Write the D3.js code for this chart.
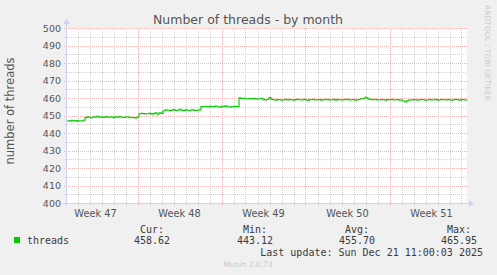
<!DOCTYPE html>
<html>
<head>
    <title>Number of threads - by month</title>
    <script src="https://d3js.org/d3.v7.min.js"></script>
    <style>
        body { margin: 0; background: #f0f0f0; }
        text { font-family: "DejaVu Sans", sans-serif; fill: #555; }
        .mono { font-family: "DejaVu Sans Mono", monospace; font-size: 10px; fill: #3a3a3a; }
    </style>
</head>
<body>
    <div id="chart"></div>

    <script>
// series, 4-hour samples starting Nov 18 2025 03:00 UTC
const startTime = Date.UTC(2025, 10, 18, 3);
const endTime = Date.UTC(2025, 11, 21, 11);
const stepHours = 4;

const threads = [
  447.0, 446.8, 447.2, 446.9, 447.1, 446.8, 447.0, 446.9, 447.3,
  448.8,
  449.2, 449.0, 448.7, 449.3, 449.1, 449.5, 449.0, 449.2, 448.9, 449.4,
  449.1, 449.0, 449.3, 448.8, 449.2, 449.1, 449.4, 449.0, 448.9, 449.2,
  449.3, 448.7, 449.0, 448.8, 448.6, 449.1,
  451.0, 451.2, 451.1, 450.9, 451.0, 451.2, 450.8, 451.1, 451.5, 450.7, 451.6, 451.2,
  452.6, 453.2,
  453.0, 452.8, 453.1, 453.4, 452.9, 453.0, 453.6, 453.1, 452.8, 453.2,
  453.0, 452.7, 453.3, 453.1, 452.9, 453.0, 453.2,
  455.1, 455.0, 455.3, 454.9, 455.2, 455.0, 455.1, 455.4, 455.0, 454.8,
  455.2, 455.1, 455.5, 455.0, 454.9, 455.1, 455.0, 455.2, 455.0,
  460.1, 459.7, 459.8, 459.6, 459.4, 459.7, 459.5, 459.8, 459.3, 459.5, 459.6, 459.9,
  459.1, 458.9, 459.3, 460.2, 459.2, 459.0, 458.8, 459.1, 459.0, 458.7,
  459.0, 459.2, 458.9, 459.1, 459.0, 458.8, 459.1, 459.3, 459.0, 458.9,
  459.2, 459.0, 458.6, 459.1, 459.0, 459.2, 458.9, 459.0, 459.1, 458.8,
  459.0, 459.3, 459.1, 458.9, 459.0, 459.2, 458.8, 459.1, 459.0, 458.9,
  459.1, 459.0, 459.2, 458.9, 459.0, 459.1, 458.8, 459.0, 459.3, 459.6,
  459.9, 460.4, 459.8, 459.3, 459.1, 459.0, 459.2, 458.9, 459.0, 459.1,
  459.0, 458.8, 459.1, 459.0, 459.2, 458.9, 459.0, 459.1, 458.7, 458.9,
  458.3, 457.8, 458.6, 459.0, 458.9, 459.1, 459.0, 458.8, 459.0, 459.1,
  459.0, 458.7, 459.0, 459.1, 458.9, 459.0, 459.2, 458.8, 459.0, 459.1,
  459.0, 458.9, 459.1, 459.0, 458.7, 459.0, 459.2, 459.0, 458.8, 459.1,
  459.0, 458.9, 459.0
];

const yTicks = [400, 410, 420, 430, 440, 450, 460, 470, 480, 490, 500];
const weekLabels = ["Week 47", "Week 48", "Week 49", "Week 50", "Week 51"];
// Monday of each labelled week
const weekStarts = [
  Date.UTC(2025, 10, 17), Date.UTC(2025, 10, 24), Date.UTC(2025, 11, 1),
  Date.UTC(2025, 11, 8), Date.UTC(2025, 11, 15)
];

const legendHeads = ["Cur:", "Min:", "Avg:", "Max:"];
const legendValues = ["458.62", "443.12", "455.70", "465.95"];
const lastUpdate = "Last update: Sun Dec 21 11:00:03 2025";

        const width = 497;
        const height = 275;
        const pLeft = 67, pRight = 467, pTop = 28, pBottom = 203;

        const svg = d3.select("#chart")
            .append("svg")
            .attr("width", width)
            .attr("height", height);

        svg.append("rect").attr("width", width).attr("height", height).attr("fill", "#f0f0f0");

        const x = d3.scaleUtc()
            .domain([startTime, endTime])
            .range([pLeft, pRight]);

        const y = d3.scaleLinear()
            .domain([400, 500])
            .range([pBottom, pTop]);

        // plot background
        svg.append("rect")
            .attr("x", pLeft).attr("y", pTop)
            .attr("width", pRight - pLeft).attr("height", pBottom - pTop)
            .attr("fill", "white");

        // minor grid
        const days = d3.utcDay.range(new Date(startTime), new Date(endTime));
        svg.selectAll(".vminor")
            .data(days)
            .enter().append("line")
            .attr("x1", d => Math.round(x(d)) + 0.5)
            .attr("x2", d => Math.round(x(d)) + 0.5)
            .attr("y1", pTop).attr("y2", pBottom + 2)
            .attr("stroke", "#d2d2d2")
            .attr("stroke-dasharray", "1,1");

        const minorY = d3.range(405, 500, 10);
        svg.selectAll(".hminor")
            .data(minorY)
            .enter().append("line")
            .attr("x1", pLeft - 2).attr("x2", pRight)
            .attr("y1", d => Math.round(y(d)) + 0.5)
            .attr("y2", d => Math.round(y(d)) + 0.5)
            .attr("stroke", "#d2d2d2")
            .attr("stroke-dasharray", "1,1");

        // major grid
        svg.selectAll(".vmajor")
            .data(weekStarts.filter(d => d > startTime))
            .enter().append("line")
            .attr("x1", d => Math.round(x(d)) + 0.5)
            .attr("x2", d => Math.round(x(d)) + 0.5)
            .attr("y1", pTop).attr("y2", pBottom + 3)
            .attr("stroke", "#efb4b4")
            .attr("stroke-dasharray", "1,1");

        svg.selectAll(".hmajor")
            .data(yTicks.slice(1))
            .enter().append("line")
            .attr("x1", pLeft - 3).attr("x2", pRight)
            .attr("y1", d => Math.round(y(d)) + 0.5)
            .attr("y2", d => Math.round(y(d)) + 0.5)
            .attr("stroke", "#efb4b4")
            .attr("stroke-dasharray", "1,1");

        // axes
        svg.append("line")
            .attr("x1", pLeft - 4).attr("x2", pRight + 2)
            .attr("y1", pBottom + 0.5).attr("y2", pBottom + 0.5)
            .attr("stroke", "#ccd4ee");
        svg.append("path")
            .attr("d", `M${pRight + 2},${pBottom - 3} L${pRight + 7},${pBottom + 0.5} L${pRight + 2},${pBottom + 4} Z`)
            .attr("fill", "#ccd4ee");
        svg.append("line")
            .attr("x1", pLeft - 0.5).attr("x2", pLeft - 0.5)
            .attr("y1", pBottom + 3).attr("y2", pTop - 4)
            .attr("stroke", "#ccd4ee");
        svg.append("path")
            .attr("d", `M${pLeft - 4},${pTop - 4} L${pLeft - 0.5},${pTop - 9} L${pLeft + 3},${pTop - 4} Z`)
            .attr("fill", "#ccd4ee");

        // y tick labels
        svg.selectAll(".ylab")
            .data(yTicks)
            .enter().append("text")
            .attr("x", pLeft - 6)
            .attr("y", d => y(d) + 3.5)
            .attr("text-anchor", "end")
            .attr("font-size", "9.5px")
            .text(d => d);

        // week labels, centred on Thursday noon
        svg.selectAll(".xlab")
            .data(weekStarts)
            .enter().append("text")
            .attr("x", d => x(d + 3.5 * 864e5))
            .attr("y", pBottom + 14)
            .attr("text-anchor", "middle")
            .attr("font-size", "9.8px")
            .text((d, i) => weekLabels[i]);

        // line
        const line = d3.line()
            .x((d, i) => x(startTime + i * stepHours * 36e5))
            .y(d => y(d))
            .curve(d3.curveStepAfter);

        svg.append("path")
            .datum(threads)
            .attr("d", line)
            .attr("fill", "none")
            .attr("stroke", "#00cc00")
            .attr("stroke-width", 1.1);

        // titles
        svg.append("text")
            .attr("x", 248).attr("y", 23.5)
            .attr("text-anchor", "middle")
            .attr("font-size", "12.5px")
            .text("Number of threads - by month");

        svg.append("text")
            .attr("transform", "translate(14,111) rotate(-90)")
            .attr("text-anchor", "middle")
            .attr("font-size", "11.5px")
            .text("number of threads");

        svg.append("text")
            .attr("transform", "translate(485,5) rotate(90)")
            .attr("font-size", "7.5px")
            .attr("textLength", 96)
            .attr("lengthAdjust", "spacingAndGlyphs")
            .style("fill", "#cccccc")
            .text("RRDTOOL / TOBI OETIKER");

        // legend
        svg.append("rect")
            .attr("x", 14).attr("y", 237)
            .attr("width", 6).attr("height", 6)
            .attr("fill", "#00cc00");
        svg.append("text")
            .attr("class", "mono")
            .attr("x", 27).attr("y", 243.5)
            .text("threads");

        const colRight = [170, 273, 375, 477];
        svg.selectAll(".lhead")
            .data(legendHeads)
            .enter().append("text")
            .attr("class", "mono")
            .attr("x", (d, i) => colRight[i] - 6)
            .attr("y", 233)
            .attr("text-anchor", "end")
            .text(d => d);
        svg.selectAll(".lval")
            .data(legendValues)
            .enter().append("text")
            .attr("class", "mono")
            .attr("x", (d, i) => colRight[i])
            .attr("y", 243.5)
            .attr("text-anchor", "end")
            .text(d => d);

        svg.append("text")
            .attr("class", "mono")
            .attr("x", 483).attr("y", 255.5)
            .attr("text-anchor", "end")
            .text(lastUpdate);

        svg.append("text")
            .attr("x", 248).attr("y", 267)
            .attr("text-anchor", "middle")
            .attr("font-size", "7.5px")
            .style("fill", "#c8c8c8")
            .text("Munin 2.0.73");
    </script>
</body>
</html>
